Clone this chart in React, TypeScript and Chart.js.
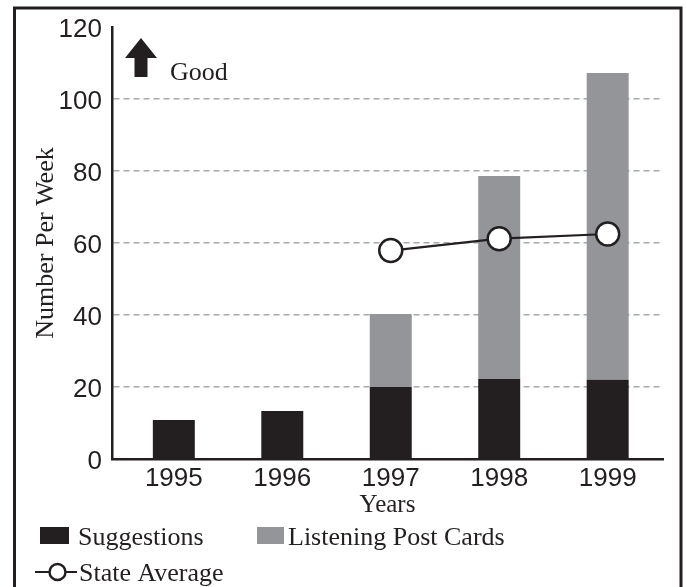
import React, { useEffect, useRef } from "react";
import { Chart, registerables } from "chart.js";

Chart.register(...registerables);

// ---- data ----
const years = [1995, 1996, 1997, 1998, 1999];
const suggestions = [10.8, 13.3, 20.0, 22.2, 22.0];
const listeningPostCards = [null, null, 20.3, 56.4, 85.2];
const stateAverage = [null, null, 57.9, 61.2, 62.5];
const yTicks = [0, 20, 40, 60, 80, 100, 120];
const xRange = [1994.43, 1999.51];

const INK = "#231f20";
const GREY_BAR = "#939598";
const GRID = "#a7a9ac";
const SERIF = "'Liberation Serif', 'Times New Roman', serif";
const SANS = "'Liberation Sans', Arial, sans-serif";

const decor = {
  id: "decor",
  beforeDraw(chart: any) {
    const ctx = chart.ctx;
    ctx.save();
    ctx.fillStyle = "#ffffff";
    ctx.fillRect(0, 0, chart.width, chart.height);
    ctx.restore();
  },
  afterDraw(chart: any) {
    const ctx = chart.ctx;
    ctx.save();
    // frame
    ctx.strokeStyle = INK;
    ctx.lineWidth = 3;
    ctx.strokeRect(14.5, 8, 666.5, 700);

    // "Good" arrow
    ctx.fillStyle = INK;
    ctx.beginPath();
    ctx.moveTo(141, 38);
    ctx.lineTo(157, 58);
    ctx.lineTo(147.5, 58);
    ctx.lineTo(147.5, 77);
    ctx.lineTo(134.5, 77);
    ctx.lineTo(134.5, 58);
    ctx.lineTo(125, 58);
    ctx.closePath();
    ctx.fill();
    ctx.font = `26px ${SERIF}`;
    ctx.textBaseline = "alphabetic";
    ctx.textAlign = "left";
    ctx.fillText("Good", 170, 80);

    // legend
    const ds = chart.data.datasets;
    ctx.fillStyle = ds[0].backgroundColor;
    ctx.fillRect(40, 527, 29, 17);
    ctx.fillStyle = INK;
    ctx.fillText(ds[0].label, 78, 545);

    ctx.fillStyle = ds[1].backgroundColor;
    ctx.fillRect(257, 527, 27, 17);
    ctx.fillStyle = INK;
    ctx.fillText(ds[1].label, 288, 545);

    ctx.strokeStyle = ds[2].borderColor;
    ctx.lineWidth = 2;
    ctx.beginPath();
    ctx.moveTo(35, 572);
    ctx.lineTo(77, 572);
    ctx.stroke();
    ctx.beginPath();
    ctx.arc(57.5, 572, 8, 0, Math.PI * 2);
    ctx.fillStyle = "#ffffff";
    ctx.fill();
    ctx.lineWidth = 2.5;
    ctx.stroke();
    ctx.fillStyle = INK;
    ctx.fillText(ds[2].label, 79, 581);
    ctx.restore();
  },
};

export default function App() {
  const ref = useRef<HTMLCanvasElement | null>(null);

  useEffect(() => {
    if (!ref.current) return;
    const chart = new Chart(ref.current, {
      type: "bar",
      data: {
        labels: years as any,
        datasets: [
          {
            label: "Suggestions",
            data: suggestions as any,
            backgroundColor: INK,
            barPercentage: 0.387,
            categoryPercentage: 1,
            order: 2,
            stack: "bars",
          },
          {
            label: "Listening Post Cards",
            data: listeningPostCards as any,
            backgroundColor: GREY_BAR,
            barPercentage: 0.387,
            categoryPercentage: 1,
            order: 2,
            stack: "bars",
          },
          {
            type: "line",
            label: "State Average",
            data: stateAverage as any,
            borderColor: INK,
            borderWidth: 2.2,
            pointRadius: 11.5,
            pointBorderWidth: 2.5,
            pointBackgroundColor: "#ffffff",
            pointBorderColor: INK,
            fill: false,
            order: 0,
            stack: "avg",
          } as any,
        ],
      },
      options: {
        animation: false,
        responsive: false,
        devicePixelRatio: 1,
        layout: { padding: { left: 0, top: 27, right: 23, bottom: 67 } },
        plugins: {
          legend: { display: false },
          tooltip: { enabled: false },
          title: { display: false },
        },
        scales: {
          x: {
            type: "linear",
            stacked: true,
            min: xRange[0],
            max: xRange[1],
            offset: false,
            grid: { display: false, drawTicks: false },
            border: { display: true, color: INK, width: 2.5 },
            ticks: {
              color: INK,
              font: { family: SANS, size: 26 },
              padding: 4,
              maxRotation: 0,
              autoSkip: false,
              callback: (v: any) => String(v),
            },
            afterBuildTicks: (scale: any) => {
              scale.ticks = years.map((v) => ({ value: v }));
            },
            title: {
              display: true,
              text: "Years",
              color: INK,
              font: { family: SERIF, size: 25 },
              padding: { top: 0, bottom: 0 },
            },
            afterFit: (scale: any) => {
              scale.height = 61;
            },
          },
          y: {
            stacked: true,
            min: 0,
            max: 120,
            grid: {
              drawTicks: false,
              lineWidth: 1.5,
              color: (c: any) =>
                c.tick && (c.tick.value === 0 || c.tick.value === 120)
                  ? "rgba(0,0,0,0)"
                  : GRID,
            },
            border: { display: true, color: INK, width: 2.5, dash: [6, 4] },
            ticks: {
              color: INK,
              font: { family: SANS, size: 26 },
              padding: 10,
              labelOffset: 3,
            },
            afterBuildTicks: (scale: any) => {
              scale.ticks = yTicks.map((v) => ({ value: v }));
            },
            title: {
              display: true,
              text: "Number Per Week",
              color: INK,
              font: { family: SERIF, size: 26 },
              padding: { top: 31, bottom: 0 },
            },
            afterFit: (scale: any) => {
              scale.width = 112;
            },
          },
        },
      } as any,
      plugins: [decor],
    });
    return () => chart.destroy();
  }, []);

  return (
    <div style={{ position: "absolute", left: 0, top: 0, width: 686, height: 587 }}>
      <canvas ref={ref} width={686} height={587} style={{ display: "block" }} />
    </div>
  );
}
